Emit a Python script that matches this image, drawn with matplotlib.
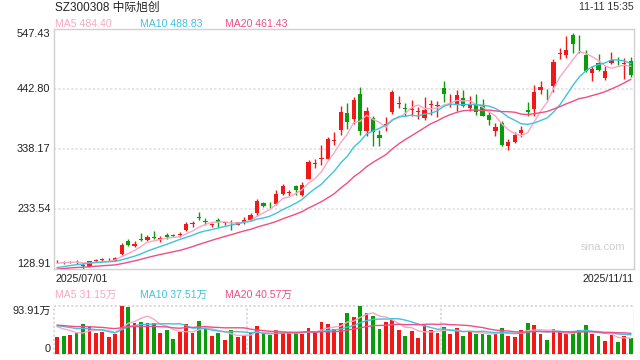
import matplotlib
matplotlib.use('Agg')
import matplotlib.pyplot as plt
import numpy as np

plt.rcParams['font.family'] = ['Liberation Sans', 'Noto Sans CJK SC', 'DejaVu Sans']

# 日K数据 2025/07/01 - 2025/11/11
opens = [142, 141.5, 140.5, 141, 136, 132.8, 143, 144.5, 144, 143.3,
         154.4, 178.2, 168.3, 180, 178.8, 185, 178.8, 188.5, 187.5, 188,
         197.4, 207.8, 218.5, 211.2, 205.5, 214.8, 208.7, 209.5, 206.1, 210.2,
         214.8, 225.9, 244.5, 242, 241.5, 259, 262, 273, 258.4, 286.3,
         312, 321.5, 321.2, 352, 371.8, 400.9, 391, 434.6, 368.9, 392.1,
         363, 380, 402, 417, 408.5, 407, 402.5, 391.5, 415.5, 414,
         445, 417.8, 417.1, 427, 409, 416.5, 415.4, 397.4, 368.9, 383.4,
         343.9, 349.7, 366, 406.6, 407.8, 441.5, 441.3, 448.5, 504.5, 502,
         536.9, 514.5, 502, 470.6, 488, 461.3, 487.5, 489.8, 487, 491.5]
highs = [145, 142, 143, 144, 139, 143.3, 147, 148, 147.5, 149,
         173.5, 181, 177, 191, 187.5, 196, 185.7, 192, 190, 193,
         210.2, 212, 227.6, 217, 209, 217.5, 211, 214.8, 211, 220,
         226.4, 250.9, 246.2, 246.2, 267, 276.4, 267.1, 274.7, 280, 319.5,
         321, 345, 358.4, 367, 413.7, 418.3, 428, 446.8, 411.3, 396.2,
         370.6, 393.9, 441.5, 431.1, 418.3, 422.9, 411.3, 428.8, 424, 421.1,
         456.1, 433.4, 441.5, 441.5, 431.1, 434, 425.3, 404.3, 383.4, 386.3,
         355.5, 367.1, 377.6, 419.5, 450.3, 456.1, 442, 495, 513.7, 535.7,
         540.4, 537.5, 511.3, 483.4, 503.2, 482.3, 506.7, 498.5, 496.8, 498.5]
lows = [140, 138, 139, 137, 128, 132, 141.5, 143, 142, 142.5,
        154, 169, 167, 178, 177, 181, 175.9, 181, 184.5, 184.5,
        196, 203, 214.8, 206.5, 203, 203, 205.5, 196.2, 205, 207,
        213, 222, 236.9, 234.5, 240.4, 258, 256.7, 257.8, 257, 285,
        305, 310, 320, 344.5, 363, 373.5, 382, 363, 360, 342.7,
        343.9, 368.9, 399.7, 409.6, 396.2, 395, 390.4, 388.1, 397.9, 393.9,
        419.5, 411.3, 403.8, 411.3, 403.8, 397.9, 395, 379.9, 360.2, 342.7,
        335.7, 348.5, 358.4, 395, 395, 434.6, 424, 436.9, 495, 496.8,
        505.5, 505.5, 471.8, 456.1, 473.5, 457.8, 485.7, 485.2, 460.2, 463.7]
closes = [143, 138.7, 141, 140.4, 134.5, 142.1, 144.5, 145, 144.8, 147.4,
          171.2, 170, 173, 179.5, 185, 182.2, 183.4, 184, 186.5, 188.8,
          207.8, 208.4, 218, 210.5, 206.3, 211.3, 209.2, 208.5, 210.2, 214.8,
          222.4, 247.9, 238, 241.5, 259, 273, 262.5, 266, 275.9, 316,
          312.5, 322.4, 356.1, 353, 403.2, 384.6, 423.5, 368.9, 404.9, 367.7,
          357.8, 380.5, 438, 417.7, 407.8, 408, 403.2, 406.6, 416, 414.8,
          433.4, 418.3, 432.2, 412.5, 414.8, 402, 396.2, 389.3, 375.9, 345.6,
          350.8, 363, 371.8, 402, 438, 445.6, 440.4, 490.4, 505, 511.3,
          520.6, 513.7, 473.5, 477, 476.4, 474.7, 493.3, 489.2, 487.5, 468]
# 成交量(万手)
volumes = [32.2, 35.4, 37.3, 41.2, 58.5, 52.1, 41.8, 43.1, 32.2, 39.2,
           92.5, 91.3, 61.1, 62.4, 61.1, 61.1, 41.8, 45.7, 28.3, 43.1,
           58.5, 39.9, 65, 48.2, 34.1, 41.8, 26.4, 45.7, 32.2, 36,
           43.7, 55.3, 39.9, 36, 47.6, 40.5, 40.5, 40.5, 38.6, 51.5,
           40.5, 62.4, 58.5, 49.5, 60.5, 79.8, 72, 93.91, 79.8, 73.9,
           48.9, 62.4, 66.3, 46.9, 35.4, 45, 31.5, 56.6, 46.9, 41.2,
           52.7, 39.2, 50.8, 35.4, 43.1, 39.2, 39.2, 37.3, 39.2, 50.8,
           35.4, 33.4, 46.9, 60.5, 56.6, 39.2, 27.6, 48.9, 43.1, 39.2,
           41.2, 46.9, 56.6, 39.2, 35.4, 25.7, 37.3, 23.8, 35.4, 31.5]
# 6月份数据, 只用来算均线
prev_closes = [118, 121, 124, 126, 125, 127, 128, 130, 131, 130,
               122, 123, 125, 124, 126, 133, 137, 139, 142]
prev_volumes = [55, 60, 58, 52, 62, 57, 54, 60, 59, 56,
                50, 58, 62, 55, 60, 57, 52, 64, 60]

price_ticks = [547.43, 442.80, 338.17, 233.54, 128.91]
price_labels = ['547.43', '442.80', '338.17', '233.54', '128.91']
vol_max = 93.91

RED = '#f21818'
GREEN = '#0b9c0b'
C5, C10, C20 = '#f9a7c4', '#3fc3e0', '#ee4f86'


def ma(prev, vals, n):
    s = np.array(prev + vals, dtype=float)
    out = np.convolve(s, np.ones(n) / n, mode='valid')
    return out[-len(vals):]


n = len(closes)
x = np.arange(n)
o = np.array(opens); c = np.array(closes)
h = np.array(highs); l = np.array(lows)
up = c >= o
cols = np.where(up, RED, GREEN)

fig = plt.figure(figsize=(6.4, 3.6), dpi=100)
W, H = 640, 360


def fpos(px, py):
    return px / W, 1 - py / H


ax = fig.add_axes([54 / W, 1 - 269 / H, 580 / W, 240 / H])
ax.set_xlim(-0.5, n - 0.5)
ax.set_ylim(price_ticks[-1], price_ticks[0])
for t in price_ticks[1:-1]:
    ax.axhline(t, color='#e2e2e2', lw=1.3, ls=(0, (1.2, 1.2)), zorder=0)

ax.vlines(x, l, h, colors=cols, lw=1.0, zorder=2)
body_h = np.maximum(np.abs(c - o), 1.3)
ax.bar(x, body_h, bottom=np.minimum(o, c), width=0.64, color=cols, lw=0, zorder=3)

ax.plot(x, ma(prev_closes, closes, 5), color=C5, lw=1.0, zorder=4)
ax.plot(x, ma(prev_closes, closes, 10), color=C10, lw=1.0, zorder=4)
ax.plot(x, ma(prev_closes, closes, 20), color=C20, lw=1.0, zorder=4)

ax.set_xticks([]); ax.set_yticks([])
for s in ax.spines.values():
    s.set_color('#d0d0d0')
    s.set_linewidth(1.0)

for t, lab in zip(price_ticks, price_labels):
    va = 'center'
    if t == price_ticks[0]:
        va = 'top'
    elif t == price_ticks[-1]:
        va = 'bottom'
    ax.text(-0.006, t, lab, transform=ax.get_yaxis_transform(), ha='right',
            va=va, fontsize=7.9, color='#222222')
ax.text(0.985, 0.09, 'sina.com', transform=ax.transAxes, ha='right', va='center',
        fontsize=8, color='#cfcfcf')

# 成交量
axv = fig.add_axes([54 / W, 1 - 354 / H, 580 / W, 48.3 / H])
axv.set_xlim(-0.5, n - 0.5)
axv.set_ylim(0, vol_max)
axv.bar(x, volumes, width=0.58, color=cols, lw=0, zorder=2)
axv.plot(x, ma(prev_volumes, volumes, 5), color=C5, lw=1.0, zorder=3)
axv.plot(x, ma(prev_volumes, volumes, 10), color=C10, lw=1.0, zorder=3)
axv.plot(x, ma(prev_volumes, volumes, 20), color=C20, lw=1.0, zorder=3)
axv.set_xticks([]); axv.set_yticks([])
for s in axv.spines.values():
    s.set_visible(False)
dot = dict(color='#d8d8d8', lw=1.3, ls=(0, (1.2, 1.2)), zorder=1, clip_on=False)
axv.axhline(vol_max, **dot)
axv.axhline(0, **dot)
axv.axvline(-0.5, **dot)
axv.axvline(n / 3 - 0.5, **dot)
axv.axvline(2 * n / 3 - 0.5, **dot)
axv.axvline(n - 0.5, color='#d0d0d0', lw=1.0)
axv.text(-0.006, vol_max, '93.91万', transform=axv.get_yaxis_transform(), ha='right',
         va='top', fontsize=7.9, color='#222222')
axv.text(-0.006, 0, '0', transform=axv.get_yaxis_transform(), ha='right',
         va='bottom', fontsize=7.9, color='#222222')

# 文字
fig.text(*fpos(55, 7.5), 'SZ300308 中际旭创', ha='left', va='center', fontsize=8.5, color='#222222')
fig.text(*fpos(634, 7.5), '11-11 15:35', ha='right', va='center', fontsize=7.6, color='#333333')
for px, txt, col in [(55, 'MA5 484.40', C5), (140, 'MA10 488.83', C10), (225, 'MA20 461.43', C20)]:
    fig.text(*fpos(px, 24), txt, ha='left', va='center', fontsize=7.6, color=col)
for px, txt, col in [(55, 'MA5 31.15万', C5), (140, 'MA10 37.51万', C10), (225, 'MA20 40.57万', C20)]:
    fig.text(*fpos(px, 294.5), txt, ha='left', va='center', fontsize=7.6, color=col)
fig.text(*fpos(55, 278.5), '2025/07/01', ha='left', va='center', fontsize=7.6, color='#222222')
fig.text(*fpos(634, 278.5), '2025/11/11', ha='right', va='center', fontsize=7.6, color='#222222')

fig.savefig('out.png', dpi=100)
